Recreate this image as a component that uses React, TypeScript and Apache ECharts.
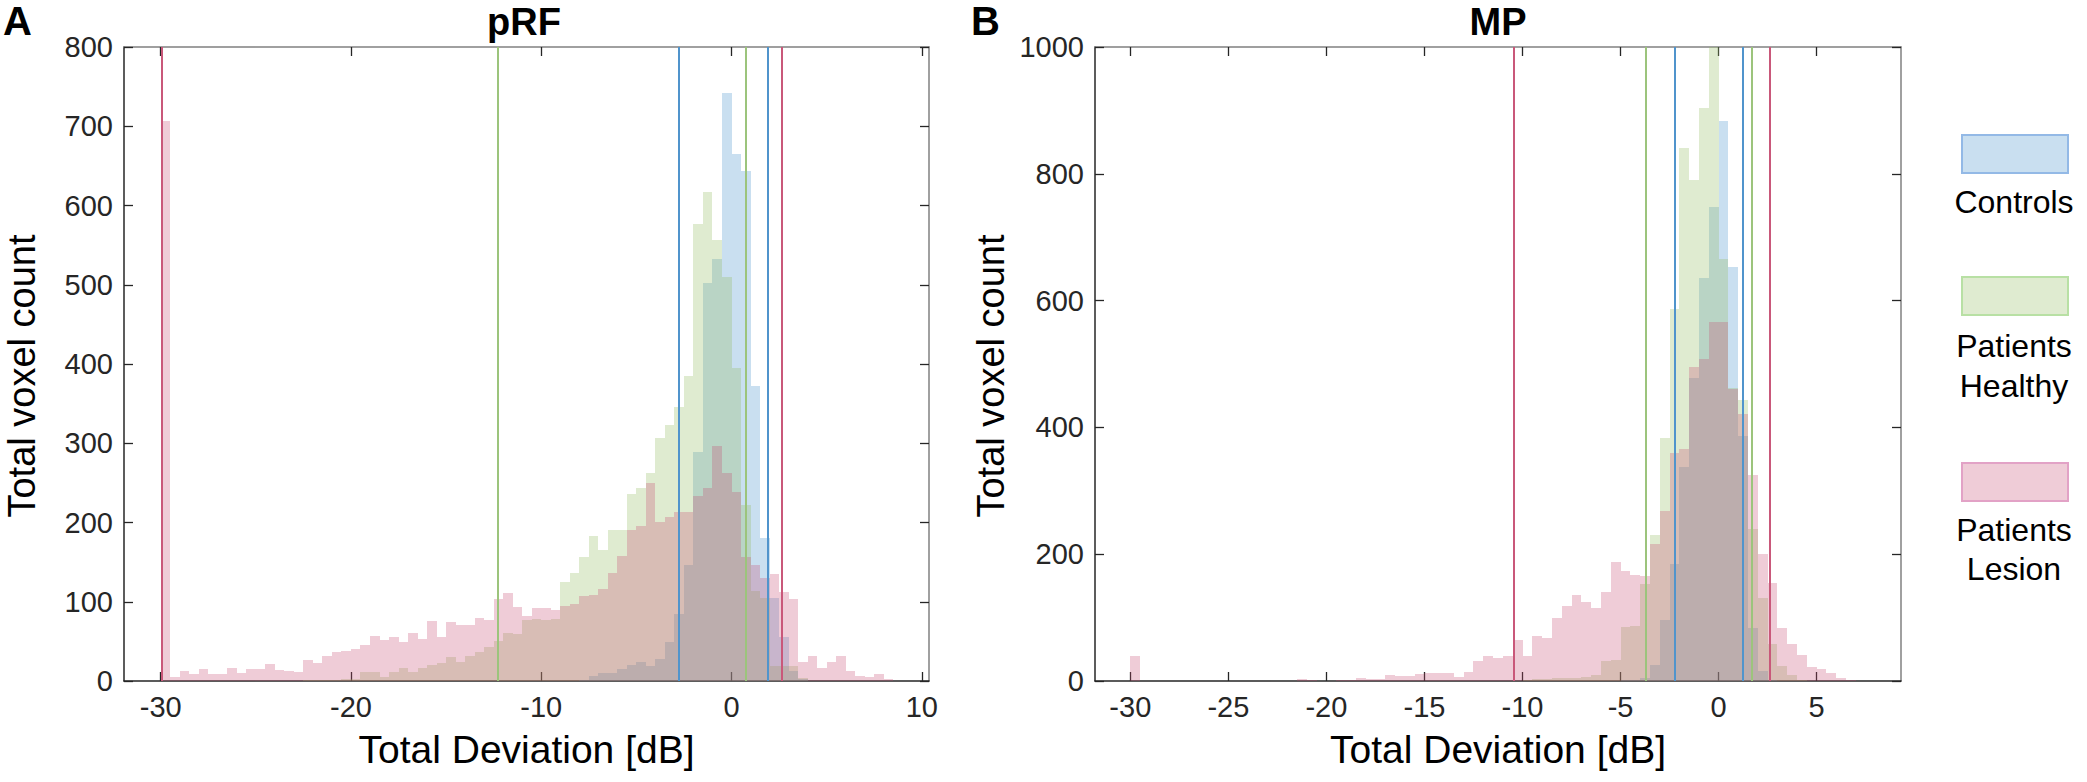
import React, { useEffect, useRef } from "react";
import * as echarts from "echarts";

// ---------- data ----------
const BIN_START = -30;
const BIN_WIDTH = 0.5;

// pRF panel (bins from -30 dB, width 0.5 dB)
const pRF_controls = [
  0, 0, 0, 0, 0, 0, 0, 0, 0, 0,
  0, 0, 0, 0, 0, 0, 0, 0, 0, 0,
  0, 0, 0, 0, 0, 0, 0, 0, 0, 0,
  0, 0, 0, 0, 0, 0, 0, 0, 0, 0,
  0, 0, 0, 0, 1, 6, 10, 10, 15, 20,
  24, 19, 28, 49, 85, 146, 289, 502, 532, 742,
  665, 644, 372, 180, 105, 56, 12, 3, 0, 0,
  0, 0, 0, 0, 0, 0, 0, 0,
];
const pRF_healthy = [
  0, 0, 0, 0, 0, 0, 0, 0, 0, 0,
  0, 0, 0, 0, 0, 1, 1, 1, 1, 2,
  3, 11, 11, 5, 11, 17, 11, 16, 20, 23,
  30, 24, 31, 36, 43, 50, 60, 59, 77, 78,
  77, 78, 125, 136, 156, 183, 165, 191, 191, 236,
  243, 262, 307, 323, 346, 385, 577, 617, 557, 510,
  395, 222, 113, 105, 19, 19, 19, 4, 0, 0,
  0, 0, 0, 0, 0, 0, 0, 0,
];
const pRF_lesion = [
  707, 5, 13, 9, 15, 9, 9, 17, 10, 15,
  15, 21, 14, 13, 11, 26, 23, 31, 36, 38,
  41, 46, 57, 52, 55, 49, 60, 53, 76, 56,
  75, 71, 71, 79, 77, 104, 111, 93, 82, 92,
  92, 89, 95, 97, 107, 109, 116, 136, 158, 190,
  195, 250, 201, 207, 213, 213, 234, 243, 296, 262,
  238, 157, 146, 130, 135, 112, 103, 24, 32, 17,
  24, 32, 12, 6, 5, 9, 3, 0,
];

// MP panel
const MP_controls = [
  0, 0, 0, 0, 0, 0, 0, 0, 0, 0,
  0, 0, 0, 0, 0, 0, 0, 0, 0, 0,
  0, 0, 0, 0, 0, 0, 0, 0, 0, 0,
  0, 0, 0, 0, 0, 0, 0, 0, 0, 0,
  0, 0, 0, 0, 0, 0, 0, 0, 0, 0,
  1, 2, 4, 25, 96, 185, 338, 478, 635, 747,
  884, 653, 387, 84, 16, 2, 0, 0, 0, 0,
  0, 0, 0, 0, 0, 0,
];
const MP_healthy = [
  0, 0, 0, 0, 0, 0, 0, 0, 0, 0,
  0, 0, 0, 0, 0, 0, 0, 0, 0, 0,
  0, 0, 0, 0, 0, 0, 0, 0, 0, 0,
  0, 0, 0, 0, 0, 0, 0, 0, 0, 0,
  2, 3, 3, 4, 4, 5, 7, 10, 31, 33,
  85, 87, 153, 231, 383, 587, 840, 791, 904, 1000,
  666, 462, 443, 240, 131, 59, 24, 9, 2, 0,
  0, 0, 0, 0, 0, 0,
];
const MP_lesion = [
  40, 0, 0, 0, 0, 0, 0, 0, 0, 0,
  0, 0, 0, 0, 0, 0, 0, 3, 1, 0,
  0, 1, 1, 5, 3, 3, 9, 8, 8, 11,
  12, 13, 13, 7, 14, 32, 39, 36, 40, 65,
  40, 71, 68, 99, 119, 135, 125, 115, 141, 188,
  173, 167, 165, 216, 268, 359, 366, 495, 508, 566,
  566, 460, 421, 325, 201, 155, 84, 59, 41, 22,
  19, 13, 4, 2, 0, 0,
];

// threshold lines [lower, upper] in dB
const pRF_controls_lines = [-2.75, 1.88];
const pRF_healthy_lines = [-12.3, 0.74];
const pRF_lesion_lines = [-29.97, 2.65];
const MP_controls_lines = [-2.24, 1.25];
const MP_healthy_lines = [-3.71, 1.71];
const MP_lesion_lines = [-10.46, 2.59];

// axes
const pRF_xTicks = [-30, -20, -10, 0, 10];
const MP_xTicks = [-30, -25, -20, -15, -10, -5, 0, 5];
const pRF_xRange = [-31.93, 10.38];
const MP_xRange = [-31.8, 9.3];
const pRF_yMax = 800;
const pRF_yStep = 100;
const MP_yMax = 1000;
const MP_yStep = 200;

const legendNames = ["Controls", "Patients Healthy", "Patients Lesion"];
const panelTitles = ["pRF", "MP"];
const panelLetters = ["A", "B"];
const xAxisTitle = "Total Deviation [dB]";
const yAxisTitle = "Total voxel count";

// ---------- styles ----------
const FONT = '"Liberation Sans", Arial, Helvetica, sans-serif';
const AXIS_DARK = "#262626";
const AXIS_LIGHT = "#808080";
const FACE = {
  controls: "rgba(60,140,200,0.28)",
  healthy: "rgba(150,190,100,0.30)",
  lesion: "rgba(196,72,110,0.28)",
};
const LINE = {
  controls: "#5094cc",
  healthy: "#9cc47c",
  lesion: "#c9587a",
};
const LEGEND_EDGE = {
  controls: "#93b9e6",
  healthy: "#b8e0a4",
  lesion: "#e2a2c6",
};

function histSeries(
  name: string,
  counts: number[],
  face: string,
  lineColor: string,
  lines: number[],
  axisIdx: number
) {
  const data = counts
    .map((c, i) => [BIN_START + i * BIN_WIDTH, BIN_START + (i + 1) * BIN_WIDTH, c])
    .filter((d) => d[2] > 0);
  return {
    type: "custom",
    name,
    xAxisIndex: axisIdx,
    yAxisIndex: axisIdx,
    data,
    encode: { x: [0, 1], y: 2 },
    clip: true,
    silent: true,
    renderItem: (params: any, api: any) => {
      const x0 = api.value(0);
      const x1 = api.value(1);
      const v = api.value(2);
      const a = api.coord([x0, 0]);
      const b = api.coord([x1, v]);
      const xl = Math.round(a[0]);
      const xr = Math.round(b[0]);
      const yb = Math.round(a[1]);
      const yt = Math.round(b[1]);
      return {
        type: "rect",
        shape: { x: xl, y: yt, width: xr - xl, height: yb - yt },
        style: { fill: face },
      };
    },
    markLine: {
      silent: true,
      symbol: ["none", "none"],
      label: { show: false },
      animation: false,
      lineStyle: { color: lineColor, width: 2, type: "solid", opacity: 1 },
      emphasis: { disabled: true },
      data: lines.map((v) => ({ xAxis: v })),
    },
  };
}

function xAxes(gridIndex: number, range: number[], ticks: number[]) {
  const common = {
    type: "value",
    gridIndex,
    min: range[0],
    max: range[1],
    splitLine: { show: false },
  };
  return [
    {
      ...common,
      position: "bottom",
      axisLine: { show: true, onZero: false, lineStyle: { color: AXIS_DARK, width: 1.5 } },
      axisTick: {
        show: true,
        inside: true,
        length: 9,
        customValues: ticks,
        lineStyle: { color: AXIS_DARK, width: 1.3 },
      },
      axisLabel: {
        show: true,
        customValues: ticks,
        margin: 11,
        fontSize: 29,
        color: AXIS_DARK,
        fontFamily: FONT,
        formatter: (v: number) => String(v),
      },
      name: xAxisTitle,
      nameLocation: "middle",
      nameGap: 49,
      nameTextStyle: { fontSize: 39, color: "#000", fontFamily: FONT },
    },
    {
      ...common,
      position: "top",
      axisLine: { show: true, onZero: false, lineStyle: { color: AXIS_LIGHT, width: 1.5 } },
      axisTick: {
        show: true,
        inside: true,
        length: 9,
        customValues: ticks,
        lineStyle: { color: AXIS_DARK, width: 1.3 },
      },
      axisLabel: { show: false },
    },
  ];
}

function yAxes(gridIndex: number, max: number, step: number) {
  const common = {
    type: "value",
    gridIndex,
    min: 0,
    max,
    interval: step,
    splitLine: { show: false },
  };
  return [
    {
      ...common,
      position: "left",
      axisLine: { show: true, onZero: false, lineStyle: { color: AXIS_DARK, width: 1.5 } },
      axisTick: { show: true, inside: true, length: 9, lineStyle: { color: AXIS_DARK, width: 1.3 } },
      axisLabel: {
        show: true,
        margin: 11,
        fontSize: 29,
        color: AXIS_DARK,
        fontFamily: FONT,
        formatter: (v: number) => String(v),
      },
    },
    {
      ...common,
      position: "right",
      axisLine: { show: true, onZero: false, lineStyle: { color: AXIS_LIGHT, width: 1.5 } },
      axisTick: { show: true, inside: true, length: 9, lineStyle: { color: AXIS_DARK, width: 1.3 } },
      axisLabel: { show: false },
    },
  ];
}

function textEl(
  text: string,
  x: number,
  y: number,
  size: number,
  weight: string,
  align: string,
  rotation = 0
) {
  return {
    type: "text",
    x,
    y,
    rotation,
    silent: true,
    style: {
      text,
      fontSize: size,
      fontWeight: weight,
      fontFamily: FONT,
      fill: "#000",
      align,
      verticalAlign: "middle",
      textAlign: align,
      textVerticalAlign: "middle",
    },
  };
}

function legendRect(y: number, fill: string, stroke: string) {
  return {
    type: "rect",
    silent: true,
    shape: { x: 1962, y, width: 106, height: 38 },
    style: { fill, stroke, lineWidth: 2 },
  };
}

export default function App() {
  const ref = useRef<HTMLDivElement>(null);

  useEffect(() => {
    if (!ref.current) return;
    const chart = echarts.init(ref.current, null, { renderer: "svg" });

    const option: any = {
      animation: false,
      backgroundColor: "#ffffff",
      textStyle: { fontFamily: FONT },
      grid: [
        { left: 124, top: 47, width: 805, height: 634 },
        { left: 1095, top: 47, width: 806, height: 634 },
      ],
      xAxis: [
        ...xAxes(0, pRF_xRange, pRF_xTicks),
        ...xAxes(1, MP_xRange, MP_xTicks),
      ],
      yAxis: [...yAxes(0, pRF_yMax, pRF_yStep), ...yAxes(1, MP_yMax, MP_yStep)],
      series: [
        histSeries(legendNames[0], pRF_controls, FACE.controls, LINE.controls, pRF_controls_lines, 0),
        histSeries(legendNames[1], pRF_healthy, FACE.healthy, LINE.healthy, pRF_healthy_lines, 0),
        histSeries(legendNames[2], pRF_lesion, FACE.lesion, LINE.lesion, pRF_lesion_lines, 0),
        histSeries(legendNames[0], MP_controls, FACE.controls, LINE.controls, MP_controls_lines, 2),
        histSeries(legendNames[1], MP_healthy, FACE.healthy, LINE.healthy, MP_healthy_lines, 2),
        histSeries(legendNames[2], MP_lesion, FACE.lesion, LINE.lesion, MP_lesion_lines, 2),
      ],
      graphic: [
        textEl(panelLetters[0], 3, 21, 40, "bold", "left"),
        textEl(panelLetters[1], 971, 21, 40, "bold", "left"),
        textEl(panelTitles[0], 524, 22, 38, "bold", "center"),
        textEl(panelTitles[1], 1498, 22, 38, "bold", "center"),
        textEl(yAxisTitle, 22, 376, 38, "normal", "center", Math.PI / 2),
        textEl(yAxisTitle, 991, 376, 38, "normal", "center", Math.PI / 2),
        legendRect(135, FACE.controls, LEGEND_EDGE.controls),
        legendRect(277, FACE.healthy, LEGEND_EDGE.healthy),
        legendRect(463, FACE.lesion, LEGEND_EDGE.lesion),
        textEl("Controls", 2014, 202, 32, "normal", "center"),
        textEl("Patients", 2014, 346, 32, "normal", "center"),
        textEl("Healthy", 2014, 386, 32, "normal", "center"),
        textEl("Patients", 2014, 530, 32, "normal", "center"),
        textEl("Lesion", 2014, 569, 32, "normal", "center"),
      ],
    };

    chart.setOption(option);
    return () => chart.dispose();
  }, []);

  return (
    <div
      ref={ref}
      style={{ position: "fixed", left: 0, top: 0, width: 2087, height: 782, background: "#fff" }}
    />
  );
}
